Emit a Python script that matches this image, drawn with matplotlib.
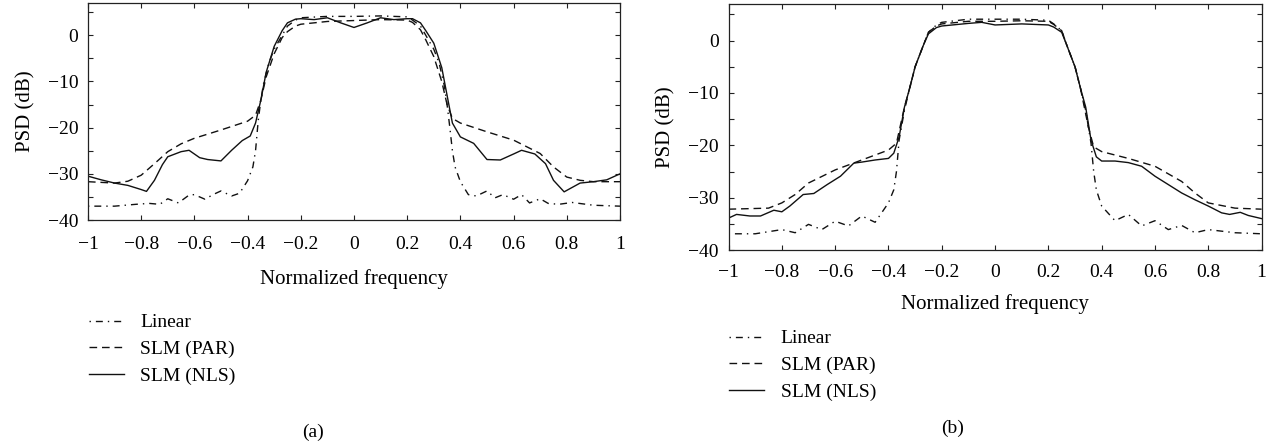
import matplotlib
matplotlib.use("Agg")
import matplotlib.pyplot as plt
from matplotlib.ticker import MultipleLocator

plt.rcParams['font.family'] = ['Liberation Serif', 'DejaVu Serif']
plt.rcParams['axes.unicode_minus'] = True

# ---- panel (a) ----
a_lin_x = [-1, -0.9, -0.82, -0.77, -0.73, -0.7, -0.66, -0.62, -0.6, -0.56, -0.53, -0.5, -0.46, -0.43,
           -0.4, -0.38, -0.37, -0.36, -0.35, -0.34, -0.32, -0.3, -0.27, -0.25, -0.22, -0.2, -0.1, 0,
           0.1, 0.2, 0.22, 0.25, 0.27, 0.3, 0.32, 0.34, 0.35, 0.36, 0.37, 0.38, 0.4, 0.43, 0.46, 0.5,
           0.53, 0.56, 0.6, 0.63, 0.66, 0.7, 0.73, 0.77, 0.82, 0.9, 1]
a_lin_y = [-37, -37, -36.6, -36.4, -36.6, -35.4, -36.3, -34.6, -34.5, -35.5, -34.5, -33.7, -34.8, -34.2,
           -31.5, -28.5, -25, -18.5, -14, -10.5, -6, -3, 0, 2, 3.3, 3.8, 4.1, 4.1,
           4.2, 4.0, 3.3, 2, 0, -3, -6, -11, -15, -19.8, -25, -28.5, -31.7, -34.5, -34.8, -33.7,
           -35.2, -34.5, -35.5, -34.5, -36.3, -35.4, -36.4, -36.6, -36.2, -36.8, -37]

a_par_x = [-1, -0.9, -0.85, -0.8, -0.75, -0.7, -0.65, -0.6, -0.5, -0.4, -0.37, -0.35, -0.33, -0.3,
           -0.27, -0.25, -0.22, -0.2, -0.1, 0, 0.1, 0.2, 0.22, 0.25, 0.27, 0.3, 0.33, 0.35, 0.37,
           0.4, 0.5, 0.6, 0.7, 0.75, 0.8, 0.85, 0.9, 1]
a_par_y = [-31.7, -32, -31.6, -30.3, -27.8, -25.2, -23.5, -22.3, -20.5, -18.6, -17.3, -14, -9, -4,
           -0.5, 0.8, 2, 2.4, 3.0, 3.2, 3.4, 3.3, 2.8, 1.2, -1, -4.6, -10, -15, -18,
           -19, -20.9, -22.7, -25.6, -28.5, -30.7, -31.4, -31.7, -31.7]

a_nls_x = [-1, -0.95, -0.9, -0.85, -0.8, -0.78, -0.75, -0.72, -0.7, -0.65, -0.62, -0.58, -0.55, -0.5,
           -0.46, -0.42, -0.39, -0.37, -0.35, -0.33, -0.3, -0.27, -0.25, -0.22, -0.2, -0.15, -0.1,
           -0.05, 0, 0.05, 0.1, 0.15, 0.2, 0.22, 0.25, 0.27, 0.3, 0.33, 0.35, 0.37, 0.4, 0.45, 0.5,
           0.55, 0.6, 0.63, 0.68, 0.72, 0.75, 0.79, 0.85, 0.9, 0.95, 1]
a_nls_y = [-30.5, -31.3, -32, -32.5, -33.4, -33.8, -31.4, -28, -26.3, -25.2, -24.9, -26.5, -26.9, -27.2,
           -24.9, -22.8, -21.8, -19, -14, -8, -2.4, 1, 2.7, 3.5, 3.6, 3.4, 3.8,
           2.7, 1.7, 2.7, 3.8, 3.4, 3.6, 3.6, 2.7, 1, -1.7, -7, -13, -19, -22, -23.4, -26.9,
           -27, -25.7, -24.9, -25.7, -27.8, -31.4, -33.9, -32, -31.7, -31.3, -30]

# ---- panel (b) ----
b_lin_x = [-1, -0.9, -0.8, -0.75, -0.7, -0.65, -0.6, -0.55, -0.5, -0.45, -0.4, -0.38, -0.37, -0.36,
           -0.34, -0.32, -0.3, -0.27, -0.25, -0.22, -0.2, -0.1, 0, 0.1, 0.2, 0.22, 0.25, 0.27, 0.3,
           0.32, 0.34, 0.36, 0.37, 0.38, 0.4, 0.45, 0.5, 0.55, 0.6, 0.65, 0.7, 0.75, 0.8, 0.9, 1]
b_lin_y = [-36.9, -36.9, -36.1, -36.7, -35.1, -36.1, -34.5, -35.4, -33.5, -34.7, -31, -28.5, -25, -19,
           -13.3, -9, -5, -1, 1.6, 3, 3.5, 4.1, 4.1, 4.1, 3.9, 3.2, 1.9, -1, -5,
           -9, -13.3, -19.6, -25, -28.5, -31.6, -34.4, -33.2, -35.4, -34.4, -36.1, -35.3, -36.7, -36.1,
           -36.7, -36.9]

b_par_x = [-1, -0.85, -0.8, -0.75, -0.7, -0.6, -0.5, -0.4, -0.37, -0.34, -0.32, -0.3, -0.27, -0.25,
           -0.22, -0.2, -0.1, 0, 0.1, 0.2, 0.22, 0.25, 0.27, 0.3, 0.32, 0.35, 0.37, 0.4, 0.5, 0.6,
           0.7, 0.75, 0.8, 0.9, 1]
b_par_y = [-32.2, -32, -31, -29.4, -27.2, -24.7, -22.8, -20.9, -19.6, -12.7, -9, -5, -1, 1.6,
           2.8, 3.2, 3.7, 3.7, 3.8, 3.7, 3.1, 1.9, -1, -5, -9, -16.5, -20.3, -21.2, -22.5, -24,
           -26.9, -29.1, -31, -32, -32.2]

b_nls_x = [-1, -0.97, -0.92, -0.88, -0.83, -0.8, -0.77, -0.72, -0.68, -0.63, -0.58, -0.53, -0.5,
           -0.45, -0.4, -0.38, -0.36, -0.34, -0.32, -0.3, -0.27, -0.25, -0.22, -0.2, -0.1, -0.05, 0,
           0.1, 0.2, 0.22, 0.25, 0.27, 0.3, 0.32, 0.34, 0.36, 0.38, 0.4, 0.45, 0.5, 0.55, 0.6, 0.65,
           0.7, 0.75, 0.8, 0.85, 0.88, 0.92, 0.95, 1]
b_nls_y = [-33.9, -33.2, -33.5, -33.5, -32.4, -32.7, -31.6, -29.4, -29.2, -27.5, -25.9, -23.4, -23.2,
           -22.8, -22.5, -21.5, -18.4, -12.7, -9, -5, -1, 1.3, 2.5, 2.8, 3.3, 3.5, 3.0,
           3.2, 3.0, 2.6, 1.6, -1, -5, -9, -12.7, -19, -22.2, -23, -23, -23.3, -24, -25.9, -27.5,
           -29.1, -30.4, -31.6, -32.9, -33.2, -32.8, -33.4, -34]

labels = ['Linear', 'SLM (PAR)', 'SLM (NLS)']
ytick_vals = [0, -10, -20, -30, -40]
xtick_vals = [-1, -0.8, -0.6, -0.4, -0.2, 0, 0.2, 0.4, 0.6, 0.8, 1]
xtick_txt = ['\u22121', '\u22120.8', '\u22120.6', '\u22120.4', '\u22120.2', '0', '0.2', '0.4', '0.6', '0.8', '1']
ytick_txt = ['0', '\u221210', '\u221220', '\u221230', '\u221240']

fig = plt.figure(figsize=(12.71, 4.47), dpi=100)
ax_a = fig.add_axes([0.0692, 0.5078, 0.4186, 0.4855])
ax_b = fig.add_axes([0.5732, 0.4407, 0.4194, 0.5503])

ls_lin = (0, (1, 3.6, 5, 3.6))
ls_par = (0, (5.5, 3.5))
col = '#111111'

# axes, series, legend anchor, tick pad, xlabel pad
panels = [
    (ax_a, (a_lin_x, a_lin_y), (a_par_x, a_par_y), (a_nls_x, a_nls_y), (0.0700, 0.2980), 11.5, 11.5),
    (ax_b, (b_lin_x, b_lin_y), (b_par_x, b_par_y), (b_nls_x, b_nls_y), (0.5736, 0.2620), 10, 9.5),
]

for ax, lin, par, nls, leg_pos, tpad, lpad in panels:
    ax.plot(lin[0], lin[1], color=col, lw=1.0, linestyle=ls_lin, label=labels[0])
    ax.plot(par[0], par[1], color=col, lw=1.0, linestyle=ls_par, label=labels[1])
    ax.plot(nls[0], nls[1], color=col, lw=1.0, linestyle='-', label=labels[2])
    ax.set_xlim(-1, 1)
    ax.set_ylim(-40, 7)
    ax.set_xticks(xtick_vals)
    ax.set_xticklabels(xtick_txt)
    ax.set_yticks(ytick_vals)
    ax.set_yticklabels(ytick_txt)
    ax.yaxis.set_minor_locator(MultipleLocator(5))
    ax.tick_params(which='both', direction='in', top=True, right=True, length=3.5, width=0.8,
                   labelsize=14, color='#222222')
    ax.tick_params(axis='x', pad=tpad)
    ax.tick_params(axis='y', pad=7)
    for s in ax.spines.values():
        s.set_linewidth(0.9)
        s.set_color('#222222')
    ax.set_xlabel('Normalized frequency', fontsize=15, labelpad=lpad)
    ax.set_ylabel('PSD (dB)', fontsize=15, labelpad=9)
    ax.legend(loc='upper left', bbox_to_anchor=leg_pos, bbox_transform=fig.transFigure,
              frameon=False, fontsize=14, handlelength=1.8, handletextpad=0.85,
              labelspacing=0.46, borderpad=0, borderaxespad=0)

fig.text(313 / 1271, 1 - 432 / 447, '(a)', fontsize=14, ha='center', va='center')
fig.text(953 / 1271, 1 - 428 / 447, '(b)', fontsize=14, ha='center', va='center')

fig.savefig('out.png', dpi=100)
